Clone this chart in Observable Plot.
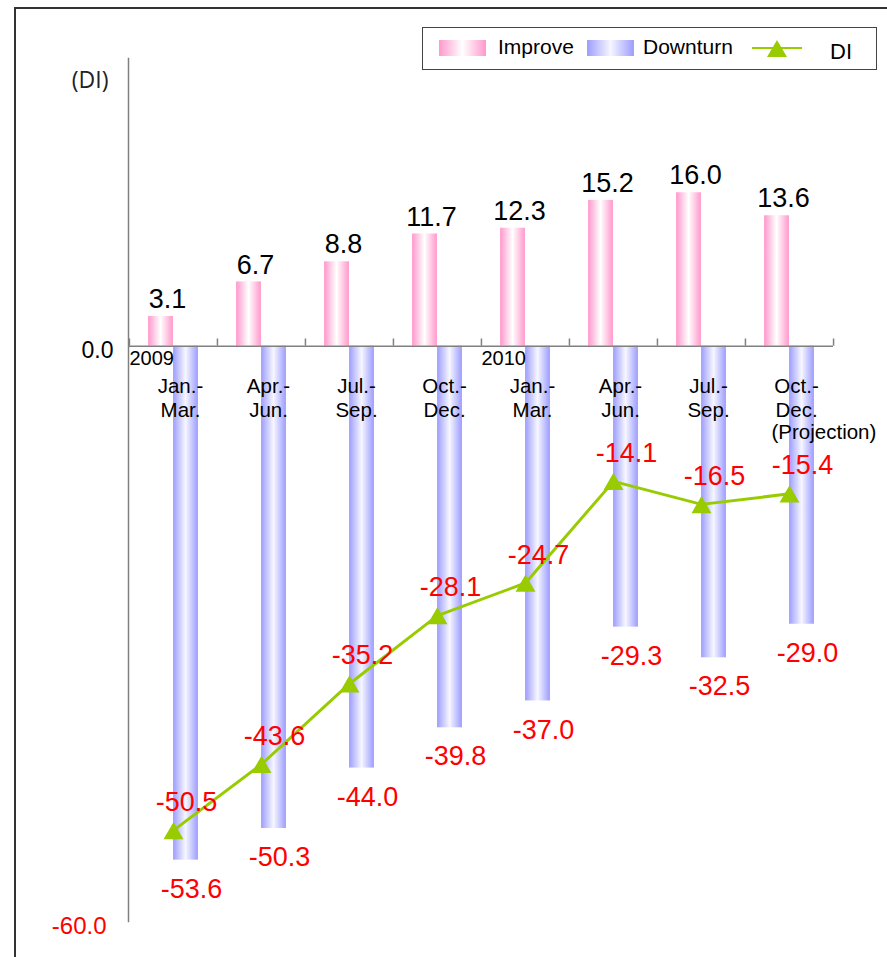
<!DOCTYPE html>
<html>
<head>
<meta charset="utf-8">
<script src="https://cdn.jsdelivr.net/npm/d3@7"></script>
<script src="https://cdn.jsdelivr.net/npm/@observablehq/plot@0.6"></script>
<style>
  html, body { margin: 0; padding: 0; background: #fff; }
  #chart { position: relative; width: 887px; height: 957px; overflow: hidden;
           font-family: "Liberation Sans", Arial, sans-serif; }
  #frame { position: absolute; left: 14px; top: 7px; width: 1000px; height: 1000px;
           border-left: 2px solid #333; border-top: 2px solid #333; }
  #chart > svg { position: absolute; left: 0; top: 0; }
  #legend { position: absolute; left: 422px; top: 27px; width: 455px; height: 43px;
            box-sizing: border-box; border: 1px solid #444; background: #fff; }
  #legend > * { position: absolute; }
  #legend .sw { width: 47px; height: 16px; top: 12px; }
  #legend .lt { font-size: 21px; line-height: 21px; top: 8px; white-space: nowrap; color: #000; }
</style>
</head>
<body>
<div id="chart"><div id="frame"></div></div>
<script>
// Business conditions DI by quarter: share reporting improvement / downturn, and the net DI
const periods = [
  "2009 Jan.-Mar.", "2009 Apr.-Jun.", "2009 Jul.-Sep.", "2009 Oct.-Dec.",
  "2010 Jan.-Mar.", "2010 Apr.-Jun.", "2010 Jul.-Sep.", "2010 Oct.-Dec."
];
const quarterLabels = [
  "Jan.-\nMar.", "Apr.-\nJun.", "Jul.-\nSep.", "Oct.-\nDec.",
  "Jan.-\nMar.", "Apr.-\nJun.", "Jul.-\nSep.", "Oct.-\nDec."
];
const years = ["2009", "2010"];
const projectionNote = "(Projection)";
const improve  = [3.1, 6.7, 8.8, 11.7, 12.3, 15.2, 16.0, 13.6];
const downturn = [-53.6, -50.3, -44.0, -39.8, -37.0, -29.3, -32.5, -29.0];
const di       = [-50.5, -43.6, -35.2, -28.1, -24.7, -14.1, -16.5, -15.4];
const seriesNames = ["Improve", "Downturn", "DI"];
const yTicks = [0, -60];
const unitLabel = "(DI)";

const rows = periods.map((period, i) => ({
  period, quarter: quarterLabels[i],
  improve: improve[i], downturn: downturn[i], di: di[i]
}));
const yearRows = years.map(y => ({year: y, period: periods.find(p => p.startsWith(y))}));

const W = 887, H = 957;
const margin = {top: 58, right: 54, bottom: 36, left: 128};
const band = (W - margin.left - margin.right) / periods.length;
const half = band / 2;
const barW = 25;
const fmt = v => v.toFixed(1);

const pink = "#ff99cc", blue = "#9d9dff", green = "#99cc00", axisGray = "#808080";

const svg = Plot.plot({
  width: W,
  height: H,
  marginTop: margin.top,
  marginRight: margin.right,
  marginBottom: margin.bottom,
  marginLeft: margin.left,
  style: {background: "transparent", fontFamily: "Liberation Sans, Arial, sans-serif", fontSize: "20px", color: "#000"},
  x: {type: "band", domain: periods, paddingInner: 0, paddingOuter: 0, axis: null},
  y: {domain: [-60, 30], label: null, axis: null},
  marks: [
    // paired bars: improve to the left of each quarter centre, downturn to the right
    Plot.barY(rows, {x: "period", y: "improve", fill: "url(#improveFill)",
      insetLeft: half - barW, insetRight: half}),
    Plot.barY(rows, {x: "period", y: "downturn", fill: "url(#downturnFill)",
      insetLeft: half, insetRight: half - barW}),

    // axes
    Plot.ruleY([0], {stroke: axisGray, strokeWidth: 1.5}),
    Plot.frame({anchor: "left", stroke: axisGray, strokeWidth: 1.5}),
    Plot.ruleX(periods, {x: d => d, y1: 0, y2: 0.75, dx: -half, stroke: axisGray, strokeWidth: 1.5}),
    Plot.ruleX(periods.slice(-1), {x: d => d, y1: 0, y2: 0.75, dx: half, stroke: axisGray, strokeWidth: 1.5}),
    Plot.ruleY([-60], {x: () => periods[0], insetRight: band - 7, stroke: axisGray, strokeWidth: 1.5}),
    Plot.text([yTicks[0]], {y: d => d, text: fmt, frameAnchor: "left", textAnchor: "end",
      dx: -15, dy: 4, fontSize: 23, fill: "#000"}),
    Plot.text([yTicks[1]], {y: d => d, text: fmt, frameAnchor: "left", textAnchor: "end",
      dx: -22, dy: 5, fontSize: 24, fill: "#ff0000"}),
    Plot.text([unitLabel], {frameAnchor: "top-left", text: d => d, textAnchor: "end",
      dx: -20, dy: 13, fontFamily: "Open Sans", fontSize: 23, fill: "#222"}),

    // category labels
    Plot.text(yearRows, {x: "period", y: 0, text: "year", textAnchor: "start",
      dx: -half, dy: 5, lineAnchor: "top", fontSize: 20}),
    Plot.text(rows, {x: "period", y: 0, text: "quarter", dx: 7, dy: 29,
      lineAnchor: "top", lineHeight: 1.2, fontSize: 20.5}),
    Plot.text([projectionNote], {x: () => periods[periods.length - 1], y: 0, text: d => d,
      textAnchor: "start", dx: -18, dy: 78, lineAnchor: "top", fontSize: 20.5}),

    // DI line
    Plot.line(rows, {x: "period", y: "di", stroke: green, strokeWidth: 3}),
    Plot.dot(rows, {x: "period", y: "di", symbol: "triangle", r: 7.4, fill: green, dy: 3}),

    // value labels
    Plot.text(rows, {x: "period", y: "improve", text: d => fmt(d.improve),
      dx: -6, dy: -17, fontSize: 27, fill: "#000"}),
    Plot.text(rows, {x: "period", y: "downturn", text: d => fmt(d.downturn),
      dx: 18, dy: 29, fontSize: 27, fill: "#ff0000"}),
    Plot.text(rows, {x: "period", y: "di", text: d => fmt(d.di),
      dx: 13, dy: -28, fontSize: 27, fill: "#ff0000"})
  ]
});

// horizontal cylinder-like shading for the bars
const defs = d3.select(svg).insert("defs", ":first-child");
function shade(id, edge, mid) {
  const g = defs.append("linearGradient").attr("id", id)
    .attr("x1", "0").attr("x2", "1").attr("y1", "0").attr("y2", "0");
  g.append("stop").attr("offset", "0%").attr("stop-color", edge);
  g.append("stop").attr("offset", "50%").attr("stop-color", mid);
  g.append("stop").attr("offset", "100%").attr("stop-color", edge);
}
shade("improveFill", pink, "#ffffff");
shade("downturnFill", blue, "#f6f6ff");

const chart = document.getElementById("chart");
chart.appendChild(svg);

// legend box
const legend = document.createElement("div");
legend.id = "legend";
legend.innerHTML = `
  <span class="sw" style="left:16px;background:linear-gradient(to right,${pink},#fff,${pink})"></span>
  <span class="lt" style="left:75px">${seriesNames[0]}</span>
  <span class="sw" style="left:164px;background:linear-gradient(to right,${blue},#f6f6ff,${blue})"></span>
  <span class="lt" style="left:220px">${seriesNames[1]}</span>
  <svg width="52" height="24" style="left:328px;top:9px">
    <line x1="1" x2="51" y1="11" y2="11" stroke="${green}" stroke-width="2"></line>
    <polygon points="26,3 36,20 16,20" fill="${green}"></polygon>
  </svg>
  <span class="lt" style="left:407px;top:13px;font-size:22px;line-height:22px">${seriesNames[2]}</span>`;
chart.appendChild(legend);
</script>
</body>
</html>
